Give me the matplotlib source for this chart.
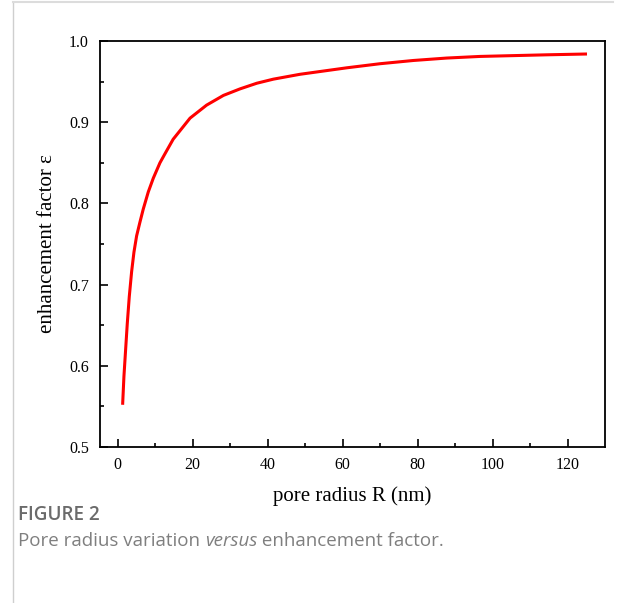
import numpy as np
import matplotlib
matplotlib.use('Agg')
import matplotlib.pyplot as plt
from matplotlib.ticker import MultipleLocator
from matplotlib.lines import Line2D

# Pore radius R (nm) and enhancement factor
R_NM = [1.33, 1.68, 2.13, 2.57, 3.10, 3.73, 4.35, 5.06, 5.95, 6.83, 8.16,
        9.50, 11.28, 12.6, 14.8, 19.3, 23.7, 28.2, 32.6, 37.1, 41.5,
        48.6, 61.1, 69.9, 78.8, 87.7, 96.6, 105.5, 114.4, 125.1]
EPS = [0.552, 0.587, 0.620, 0.652, 0.685, 0.716, 0.740, 0.760, 0.777,
       0.793, 0.814, 0.831, 0.850, 0.861, 0.879, 0.905, 0.921, 0.933,
       0.941, 0.948, 0.953, 0.959, 0.967, 0.972, 0.976, 0.979, 0.981,
       0.982, 0.983, 0.984]

SERIF = ['Liberation Serif', 'DejaVu Serif']
SANS = ['Open Sans', 'DejaVu Sans']

fig = plt.figure(figsize=(6.22, 6.03), dpi=100)
W, H = 622, 603
ax = fig.add_axes([100 / W, 1 - 447 / H, 505 / W, 406 / H])

ax.plot(R_NM, EPS, color='#ff0000', lw=2.2, solid_capstyle='butt',
        solid_joinstyle='round')

ax.set_xlim(-4.7, 129.9)
ax.set_ylim(0.5, 1.0)
ax.xaxis.set_major_locator(MultipleLocator(20))
ax.xaxis.set_minor_locator(MultipleLocator(10))
ax.yaxis.set_major_locator(MultipleLocator(0.1))
ax.yaxis.set_minor_locator(MultipleLocator(0.05))
ax.tick_params(which='both', direction='in', top=False, right=False,
               width=1.2, labelsize=11.5)
ax.tick_params(which='major', length=5.5)
ax.tick_params(which='minor', length=3)
ax.tick_params(axis='x', pad=7)
ax.tick_params(axis='y', pad=8)
for lab in ax.get_xticklabels() + ax.get_yticklabels():
    lab.set_family(SERIF)
for s in ax.spines.values():
    s.set_linewidth(1.3)

ax.set_xlabel('pore radius R (nm)', family=SERIF, fontsize=15, labelpad=10)
ax.set_ylabel('enhancement factor ε', family=SERIF, fontsize=15, labelpad=9)

# caption
fig.text(18 / W, 1 - 515 / H, 'FIGURE 2', family=SANS, fontsize=13.6,
         fontweight='semibold', color='#6b6b6b', va='center')
cap_y = 1 - 541 / H
cap_color = '#7f7f7f'
renderer = fig.canvas.get_renderer()
x = 18 / W
for part, style in [('Pore radius variation ', 'normal'),
                    ('versus', 'italic'),
                    (' enhancement factor.', 'normal')]:
    t = fig.text(x, cap_y, part, family=SANS, fontsize=13.5, style=style,
                 color=cap_color, va='center')
    x += t.get_window_extent(renderer).width / W

# page border lines
fig.add_artist(Line2D([12.5 / W, 12.5 / W], [0, 1 - 2 / H],
                      color='#cfcfcf', lw=1))
fig.add_artist(Line2D([12.5 / W, 613 / W], [1 - 2 / H, 1 - 2 / H],
                      color='#dcdcdc', lw=1.5))

fig.savefig('out.png', dpi=100)
